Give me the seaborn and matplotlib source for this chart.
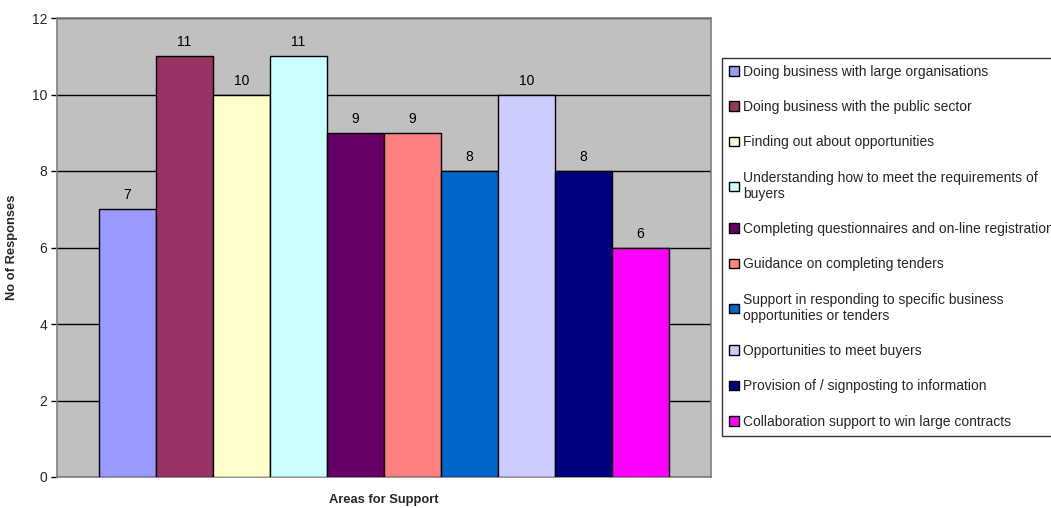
import matplotlib
matplotlib.use("Agg")
import matplotlib.pyplot as plt
from matplotlib.patches import Patch
import seaborn as sns
import pandas as pd

categories = [
    "Doing business with large organisations",
    "Doing business with the public sector",
    "Finding out about opportunities",
    "Understanding how to meet the requirements of\nbuyers",
    "Completing questionnaires and on-line registration",
    "Guidance on completing tenders",
    "Support in responding to specific business\nopportunities or tenders",
    "Opportunities to meet buyers",
    "Provision of / signposting to information",
    "Collaboration support to win large contracts",
]
responses = [7, 11, 10, 11, 9, 9, 8, 10, 8, 6]
colors = ["#9999FF", "#993366", "#FFFFCC", "#CCFFFF", "#660066",
          "#FF8080", "#0066CC", "#CCCCFF", "#000080", "#FF00FF"]
y_ticks = [0, 2, 4, 6, 8, 10, 12]

sns.set_theme(style="white")
plt.rcParams["font.family"] = ["Liberation Sans", "DejaVu Sans"]

df = pd.DataFrame({"area": categories, "n": responses})

fig = plt.figure(figsize=(10.51, 5.08), dpi=100)
ax = fig.add_axes([57/1051, 31/508, 654/1051, 459/508])
ax.set_facecolor("#C0C0C0")

sns.barplot(data=df, x="area", y="n", hue="area", palette=colors,
            saturation=1, dodge=False, width=1.0, edgecolor="black",
            linewidth=1.0, legend=False, ax=ax, zorder=3)

for c in ax.containers:
    ax.bar_label(c, padding=5, fontsize=10, color="black")

ax.set_ylim(0, 12)
ax.set_yticks(y_ticks)
ax.set_xlim(-0.5 - 42/57, 9.5 + 42/57)
ax.set_xticks([])
ax.yaxis.grid(True, color="black", linewidth=1.0, zorder=0)
ax.set_axisbelow(True)
ax.tick_params(axis="y", length=4, width=1, color="black", labelsize=10,
               pad=3, left=True, direction="out")
for s in ax.spines.values():
    s.set_color("#808080")
    s.set_linewidth(1.2)

ax.set_ylabel("No of Responses", fontsize=9.3, fontweight="bold", labelpad=10)
ax.set_xlabel("Areas for Support", fontsize=9.3, fontweight="bold", labelpad=12)

handles = [Patch(facecolor=col, edgecolor="black", linewidth=1.0) for col in colors]
leg = fig.legend(handles, categories, loc="upper left",
                 bbox_to_anchor=(722/1051, 450/508), bbox_transform=fig.transFigure,
                 frameon=True, fancybox=False, fontsize=10, borderaxespad=0,
                 handlelength=0.7, handleheight=0.7, handletextpad=0.3,
                 labelspacing=1.53, borderpad=0.5)
leg.get_frame().set_edgecolor("black")
leg.get_frame().set_linewidth(1.0)

fig.savefig("out.png", dpi=100, facecolor="white")
